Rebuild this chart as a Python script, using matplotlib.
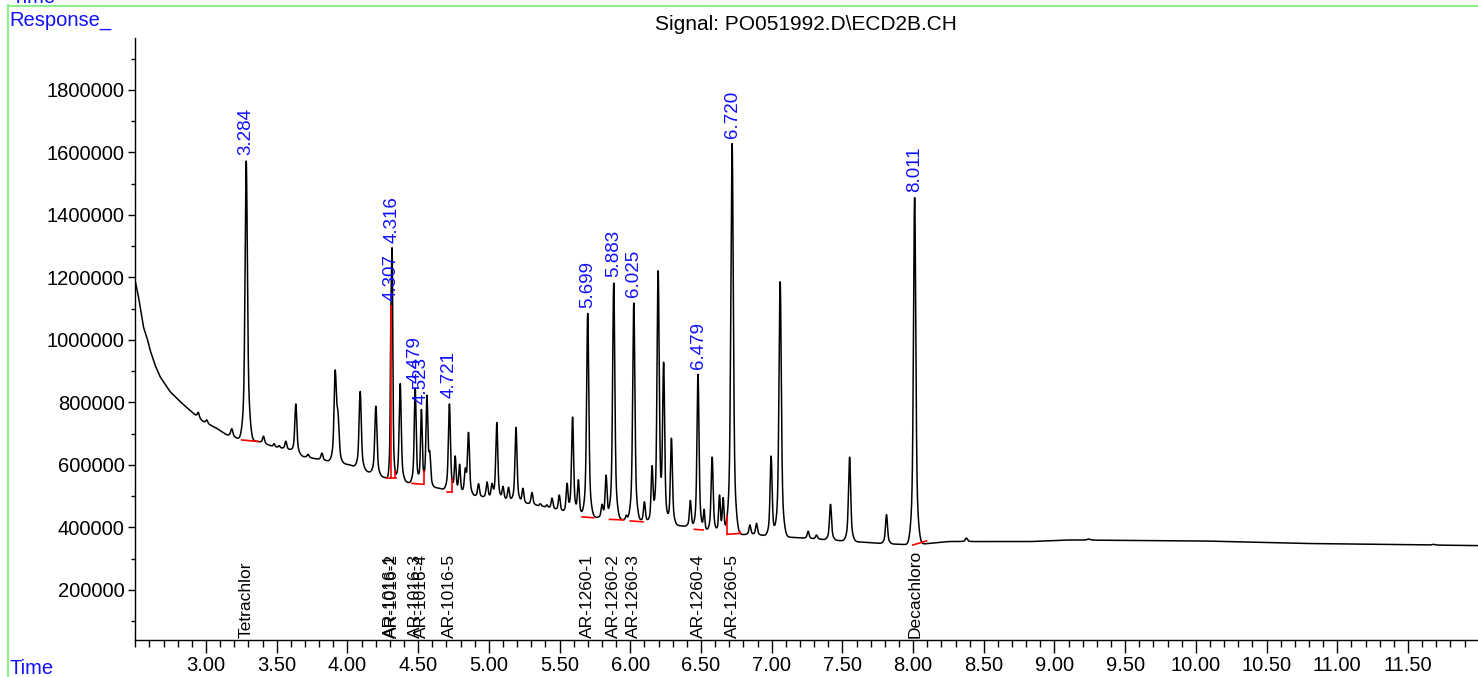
import numpy as np
import matplotlib.pyplot as plt
from matplotlib.lines import Line2D
from matplotlib.ticker import MultipleLocator, FixedLocator

plt.rcParams['font.family'] = ['Liberation Sans', 'DejaVu Sans']

# baseline of the ECD trace, read between the peaks (min, response)
base_time = [2.494, 2.520, 2.541, 2.556, 2.583, 2.604, 2.639, 2.674, 2.710, 2.745,
             2.816, 2.910, 2.979, 3.076, 3.146, 3.253, 3.370, 3.474, 3.594, 3.686,
             4.019, 4.231, 4.456, 4.642, 4.739, 4.916, 5.173, 5.385, 5.553, 5.694,
             5.907, 6.048, 6.402, 6.453, 6.685, 6.897, 7.225, 7.770, 8.003, 8.242,
             8.832, 9.086, 10.035, 10.742, 11.995]
base_resp = [1200000, 1144000, 1086000, 1043000, 1006000, 968000, 920000, 883000, 859000, 835000,
             803000, 765000, 739000, 717000, 696000, 680000, 675000, 659000, 648000, 627000,
             600000, 563000, 541000, 526000, 515000, 499000, 483000, 467000, 446000, 435000,
             426000, 421000, 403000, 393000, 379000, 376000, 366000, 349000, 344000, 355000,
             355000, 360000, 357000, 349000, 342000]

# peaks: retention time (min), apex response, width (sigma, min)
peak_time = [2.945, 3.005, 3.182, 3.284, 3.406, 3.481, 3.517, 3.564, 3.635, 3.722,
             3.819, 3.913, 3.932, 4.090, 4.201, 4.307, 4.316, 4.373, 4.479, 4.523,
             4.562, 4.582, 4.721, 4.762, 4.793, 4.833, 4.856, 4.927, 4.987, 5.022,
             5.056, 5.100, 5.139, 5.192, 5.241, 5.305, 5.364, 5.411, 5.447, 5.498,
             5.553, 5.592, 5.633, 5.699, 5.800, 5.829, 5.883, 5.972, 6.025, 6.100,
             6.154, 6.197, 6.236, 6.291, 6.425, 6.479, 6.522, 6.579, 6.631, 6.657,
             6.720, 6.846, 6.893, 6.996, 7.060, 7.258, 7.317, 7.416, 7.551, 7.812,
             8.011, 8.377, 9.242, 11.680]
peak_apex = [768000, 744000, 716000, 1560000, 692000, 668000, 662000, 676000, 795000, 634000,
             638000, 880000, 740000, 835000, 788000, 935000, 1235000, 860000, 845000, 775000,
             815000, 620000, 795000, 625000, 600000, 575000, 700000, 540000, 545000, 535000,
             735000, 530000, 528000, 720000, 525000, 512000, 476000, 472000, 494000, 504000,
             538000, 752000, 550000, 1085000, 470000, 565000, 1182000, 438000, 1118000, 482000,
             590000, 1215000, 915000, 685000, 486000, 890000, 455000, 625000, 500000, 490000,
             1628000, 408000, 413000, 628000, 1186000, 388000, 376000, 474000, 625000, 441000,
             1455000, 366000, 363000, 346000]
peak_width = [0.006, 0.006, 0.007, 0.0075, 0.006, 0.005, 0.005, 0.006, 0.0065, 0.006,
              0.006, 0.007, 0.008, 0.007, 0.007, 0.0035, 0.0045, 0.0065, 0.006, 0.0055,
              0.006, 0.006, 0.0065, 0.0055, 0.0055, 0.006, 0.0065, 0.006, 0.006, 0.006,
              0.0065, 0.006, 0.006, 0.0065, 0.006, 0.006, 0.005, 0.005, 0.006, 0.006,
              0.006, 0.0065, 0.006, 0.007, 0.006, 0.006, 0.007, 0.005, 0.007, 0.006,
              0.006, 0.007, 0.0065, 0.0065, 0.006, 0.0065, 0.005, 0.0065, 0.0055, 0.0055,
              0.008, 0.006, 0.006, 0.0065, 0.0075, 0.006, 0.006, 0.0065, 0.007, 0.0065,
              0.0075, 0.007, 0.01, 0.01]

# tailing of the 3.284 peak
tail_time = [3.300]
tail_height = [30000]
tail_width = [0.012]

# integrated peaks (blue retention-time labels) and compound names
rt_labels = ['3.284', '4.307', '4.316', '4.479', '4.523', '4.721',
             '5.699', '5.883', '6.025', '6.479', '6.720', '8.011']
compound_time = [3.284, 4.307, 4.316, 4.479, 4.523, 4.721,
                 5.699, 5.883, 6.025, 6.479, 6.720, 8.011]
compound_name = ['Tetrachlor', 'AR-1016-1', 'AR-1016-2', 'AR-1016-3', 'AR-1016-4',
                 'AR-1016-5', 'AR-1260-1', 'AR-1260-2', 'AR-1260-3', 'AR-1260-4',
                 'AR-1260-5', 'Decachloro']

# integration baselines (red)
seg_t0 = [3.253, 4.279, 4.456, 4.703, 5.659, 5.854, 6.000, 6.453, 6.685, 7.998]
seg_v0 = [680000, 558000, 541000, 515000, 434000, 426000, 421000, 394000, 378000, 344000]
seg_t1 = [3.370, 4.340, 4.538, 4.739, 5.741, 5.953, 6.090, 6.515, 6.774, 8.095]
seg_v1 = [675000, 558000, 538000, 515000, 431000, 424000, 418000, 392000, 381000, 357000]
drop_time = [4.307, 4.337, 4.538, 4.739, 6.685, 6.774]

xticks = [3.0, 3.5, 4.0, 4.5, 5.0, 5.5, 6.0, 6.5, 7.0, 7.5, 8.0, 8.5, 9.0, 9.5,
          10.0, 10.5, 11.0, 11.5]
yticks = [200000, 400000, 600000, 800000, 1000000, 1200000, 1400000, 1600000, 1800000]


def peak_shape(x, center, width):
    # sharp core with a wider foot, like the ECD peaks
    core = np.exp(-0.5 * ((x - center) / width) ** 2)
    foot = np.exp(-0.5 * ((x - center) / (2.5 * width)) ** 2)
    return 0.8 * core + 0.2 * foot


# build the trace from the peak table
t = np.arange(2.494, 11.995, 0.0005)
trace = np.interp(t, base_time, base_resp)
for pt, pa, pw in zip(peak_time, peak_apex, peak_width):
    h = pa - np.interp(pt, base_time, base_resp)
    trace += h * peak_shape(t, pt, pw)
for pt, ph, pw in zip(tail_time, tail_height, tail_width):
    trace += ph * np.exp(-0.5 * ((t - pt) / pw) ** 2) * (t > 3.284)

fig = plt.figure(figsize=(14.78, 6.77), dpi=100)
ax = fig.add_axes([134.5 / 1478, 1 - 639.5 / 677, 1 - 134.5 / 1478, (639.5 - 38) / 677])

ax.plot(t, trace, color='black', lw=1.1)

# red integration marks
for a0, b0, a1, b1 in zip(seg_t0, seg_v0, seg_t1, seg_v1):
    ax.plot([a0, a1], [b0, b1], color='red', lw=1.2)
for dt in drop_time:
    for a0, b0, a1, b1 in zip(seg_t0, seg_v0, seg_t1, seg_v1):
        if a0 <= dt <= a1:
            bottom = np.interp(dt, [a0, a1], [b0, b1])
            ax.plot([dt, dt], [bottom, np.interp(dt, t, trace)], color='red', lw=1.2)

# retention time labels above the peaks
for lab, ct in zip(rt_labels, compound_time):
    ax.annotate(lab, (ct, np.interp(ct, t, trace)), xytext=(0, 4), textcoords='offset points',
                rotation=90, ha='center', va='bottom', color='#1010ff', fontsize=13.5)

# compound names along the bottom
for name, ct in zip(compound_name, compound_time):
    ax.text(ct, 0.003, name, transform=ax.get_xaxis_transform(), rotation=90,
            ha='center', va='bottom', fontsize=12.5, color='black')

ax.set_xlim(2.494, 11.995)
ax.set_ylim(41600, 1966000)
ax.xaxis.set_major_locator(FixedLocator(xticks))
ax.xaxis.set_minor_locator(MultipleLocator(0.1))
ax.yaxis.set_major_locator(FixedLocator(yticks))
ax.yaxis.set_minor_locator(MultipleLocator(100000))
ax.set_xticklabels(['%.2f' % v for v in xticks])
ax.set_yticklabels(['%d' % v for v in yticks])
ax.tick_params(axis='x', which='major', length=9, width=1, labelsize=14.5, pad=3)
ax.tick_params(axis='x', which='minor', length=5, width=1)
ax.tick_params(axis='y', which='major', length=5, width=1, labelsize=14.5, pad=2)
ax.tick_params(axis='y', which='minor', length=3, width=1)
for side in ['top', 'right']:
    ax.spines[side].set_visible(False)
for side in ['left', 'bottom']:
    ax.spines[side].set_linewidth(1)

# page frame and headings
fig.add_artist(Line2D([8 / 1478, 8 / 1478], [0, 1 - 5 / 677], color='#8cf08c', lw=1.5))
fig.add_artist(Line2D([8 / 1478, 1], [1 - 6 / 677, 1 - 6 / 677], color='#8cf08c', lw=1.5))
fig.text(12 / 1478, 1 - 3 / 677, 'Time', color='#1010ff', fontsize=14.5, ha='left', va='baseline')
fig.text(9 / 1478, 1 - 21 / 677, 'Response_', color='#1010ff', fontsize=14.5, ha='left', va='center')
fig.text(9 / 1478, 1 - 668 / 677, 'Time', color='#1010ff', fontsize=14.5, ha='left', va='center')
fig.text(806 / 1478, 1 - 25 / 677, 'Signal: PO051992.D\\ECD2B.CH', color='black',
         fontsize=15, ha='center', va='center')

fig.savefig('out.png', dpi=100)
